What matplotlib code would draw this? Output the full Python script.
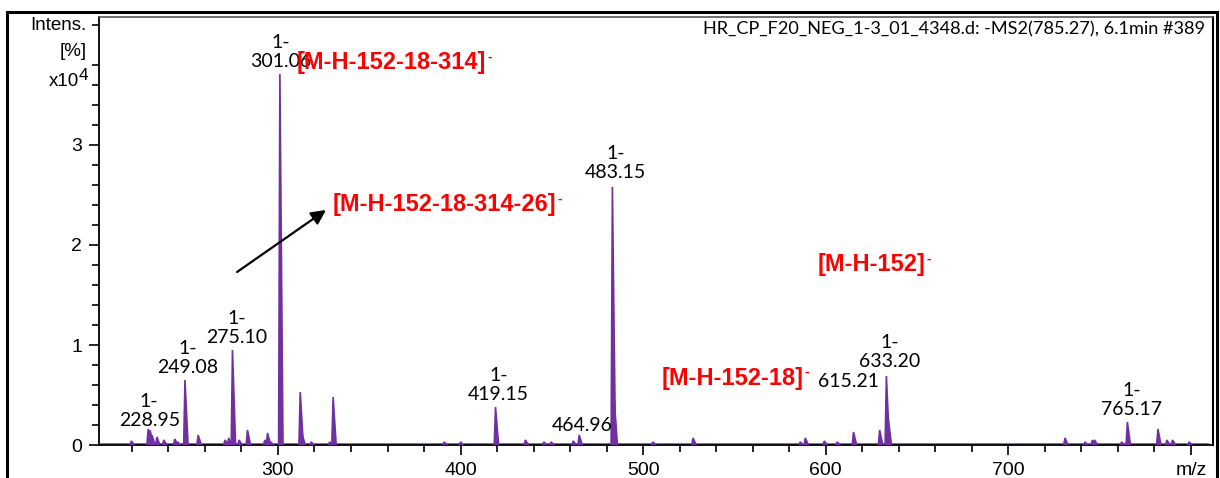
import matplotlib
matplotlib.use("Agg")
import matplotlib.pyplot as plt
from matplotlib.patches import Rectangle

plt.rcParams['mathtext.default'] = 'regular'

# ---- data ----
labeled_mz = [228.95, 249.08, 275.10, 301.06, 419.15, 464.96, 483.15, 615.21, 633.20, 765.17]
labeled_int = [0.16, 0.65, 0.95, 3.71, 0.38, 0.10, 2.58, 0.13, 0.69, 0.23]
labeled_show_charge = [True, True, True, True, True, False, True, False, True, True]

minor_mz = [219.7, 230.0, 231.0, 233.7, 237.5, 243.5, 245.0, 256.3, 271.0, 273.0, 278.7,
            283.3, 292.8, 294.3, 296.0, 312.2, 313.3, 318.2, 328.3, 330.2, 391.0, 400.0,
            435.5, 445.6, 449.6, 461.7, 484.2, 505.3, 527.3, 586.0, 588.8, 599.2, 606.2,
            629.5, 634.3, 731.0, 742.0, 746.0, 747.2, 762.0, 781.9, 786.8, 789.9, 799.0]
minor_int = [0.04, 0.15, 0.10, 0.08, 0.05, 0.06, 0.03, 0.10, 0.05, 0.07, 0.05,
             0.15, 0.05, 0.12, 0.03, 0.53, 0.10, 0.03, 0.03, 0.48, 0.03, 0.03,
             0.05, 0.03, 0.03, 0.04, 0.45, 0.03, 0.07, 0.03, 0.07, 0.04, 0.03,
             0.15, 0.25, 0.07, 0.03, 0.05, 0.05, 0.03, 0.16, 0.05, 0.05, 0.03]

baseline_mz = [202.0, 809.6]

fragment_texts = ["[M-H-152-18-314]", "[M-H-152-18-314-26]", "[M-H-152]", "[M-H-152-18]"]

x_major = [300, 400, 500, 600, 700, 800]
x_major_labels = ["300", "400", "500", "600", "700", "m/z"]
y_major = [0, 1, 2, 3]

header = "HR_CP_F20_NEG_1-3_01_4348.d: -MS2(785.27), 6.1min #389"

# ---- figure ----
fig = plt.figure(figsize=(12.2, 4.78), dpi=100)
ax = fig.add_axes([99/1220, 1 - 445/478, (1212.7 - 99)/1220, (445 - 16.7)/478])

purple = '#7030A0'
wl, wr = 0.7, 1.7
for mz, h in list(zip(minor_mz, minor_int)) + list(zip(labeled_mz, labeled_int)):
    ax.fill([mz - wl, mz, mz + wr], [0, h, 0], color=purple, lw=1.2, ec=purple, zorder=3)
ax.plot(baseline_mz, [0.012, 0.012], color='#8A55C0', lw=2, zorder=2, solid_capstyle='butt')

ax.set_xlim(202.0, 811.9)
ax.set_ylim(0, 4.283)

ax.set_xticks(x_major)
ax.set_xticklabels(x_major_labels)
ax.set_xticks([v for v in range(220, 812, 20) if v not in x_major], minor=True)
ax.set_yticks(y_major)
ax.set_yticks([v / 10 for v in range(2, 43, 2) if v % 10 != 0], minor=True)

for lab in ax.get_xticklabels() + ax.get_yticklabels():
    lab.set_fontfamily('Liberation Sans')
    lab.set_fontsize(14)
ax.tick_params(axis='both', which='major', length=7, width=1.2, color='black')
ax.tick_params(axis='both', which='minor', length=5, width=1.2, color='black')
ax.tick_params(axis='x', which='major', pad=5)
ax.tick_params(axis='y', which='major', pad=5)
for s in ['left', 'bottom']:
    ax.spines[s].set_linewidth(1.3)
    ax.spines[s].set_color('black')
ax.spines['top'].set_color('#555555')
ax.spines['top'].set_linewidth(1.2)
ax.spines['right'].set_color('black')
ax.spines['right'].set_linewidth(1.5)

# axis label block
for txt, ypx in [("Intens.", 25), ("[%]", 51)]:
    fig.text(87/1220, 1 - ypx/478, txt, ha='right', va='center',
             family='Liberation Sans', fontsize=13.5)
fig.text(79/1220, 1 - 82/478, "x10", ha='right', va='center',
         family='Liberation Sans', fontsize=13.5)
fig.text(78.5/1220, 1 - 75/478, "4", ha='left', va='center',
         family='Liberation Sans', fontsize=12.5)

# header
fig.text(1205/1220, 1 - 29/478, header, ha='right', va='center', family='Lato', fontsize=13.1)

# outer frame
fig.patches.append(Rectangle((7/1220, -0.2), (1217 - 7)/1220, 0.2 + 1 - 11.5/478,
                             transform=fig.transFigure, fill=False, ec='black', lw=2.2))

# peak labels
label_offsets = {228.95: (1, 0), 249.08: (3, 4), 275.10: (4, 4), 301.06: (1, 4),
                 419.15: (3, 4), 464.96: (3, 1), 483.15: (3, 6), 615.21: (-5, 42),
                 633.20: (3, 6), 765.17: (4, 4)}
for mz, h, ch in zip(labeled_mz, labeled_int, labeled_show_charge):
    txt = ("1-\n" if ch else "") + f"{mz:.2f}"
    dx, dy = label_offsets[mz]
    ax.annotate(txt, xy=(mz, h), xytext=(dx * 0.72, dy * 0.72), textcoords='offset points',
                ha='center', va='bottom', multialignment='center', family='Lato',
                fontsize=14, linespacing=1.15, zorder=5)

# red fragment annotations
frag_pos = [(310.4, 3.82), (330.2, 2.40), (595.8, 1.80), (510.3, 0.67)]
for txt, (x, y) in zip(fragment_texts, frag_pos):
    t = ax.text(x, y, txt, color='#FF0000', fontweight='bold', family='Liberation Sans',
                fontsize=17, ha='left', va='center', zorder=6)
    ax.annotate("-", xy=(1.0, 1.0), xycoords=t, xytext=(0.5, 1), textcoords='offset points',
                color='#FF0000', fontsize=10, fontweight='bold', family='Liberation Sans',
                ha='left', va='top', zorder=6)

# arrow
ax.annotate("", xy=(326.3, 2.35), xytext=(277.6, 1.73),
            arrowprops=dict(arrowstyle='-|>', mutation_scale=22, lw=1.6, color='black',
                            shrinkA=0, shrinkB=0), zorder=6)

fig.savefig("out.png", dpi=100)
